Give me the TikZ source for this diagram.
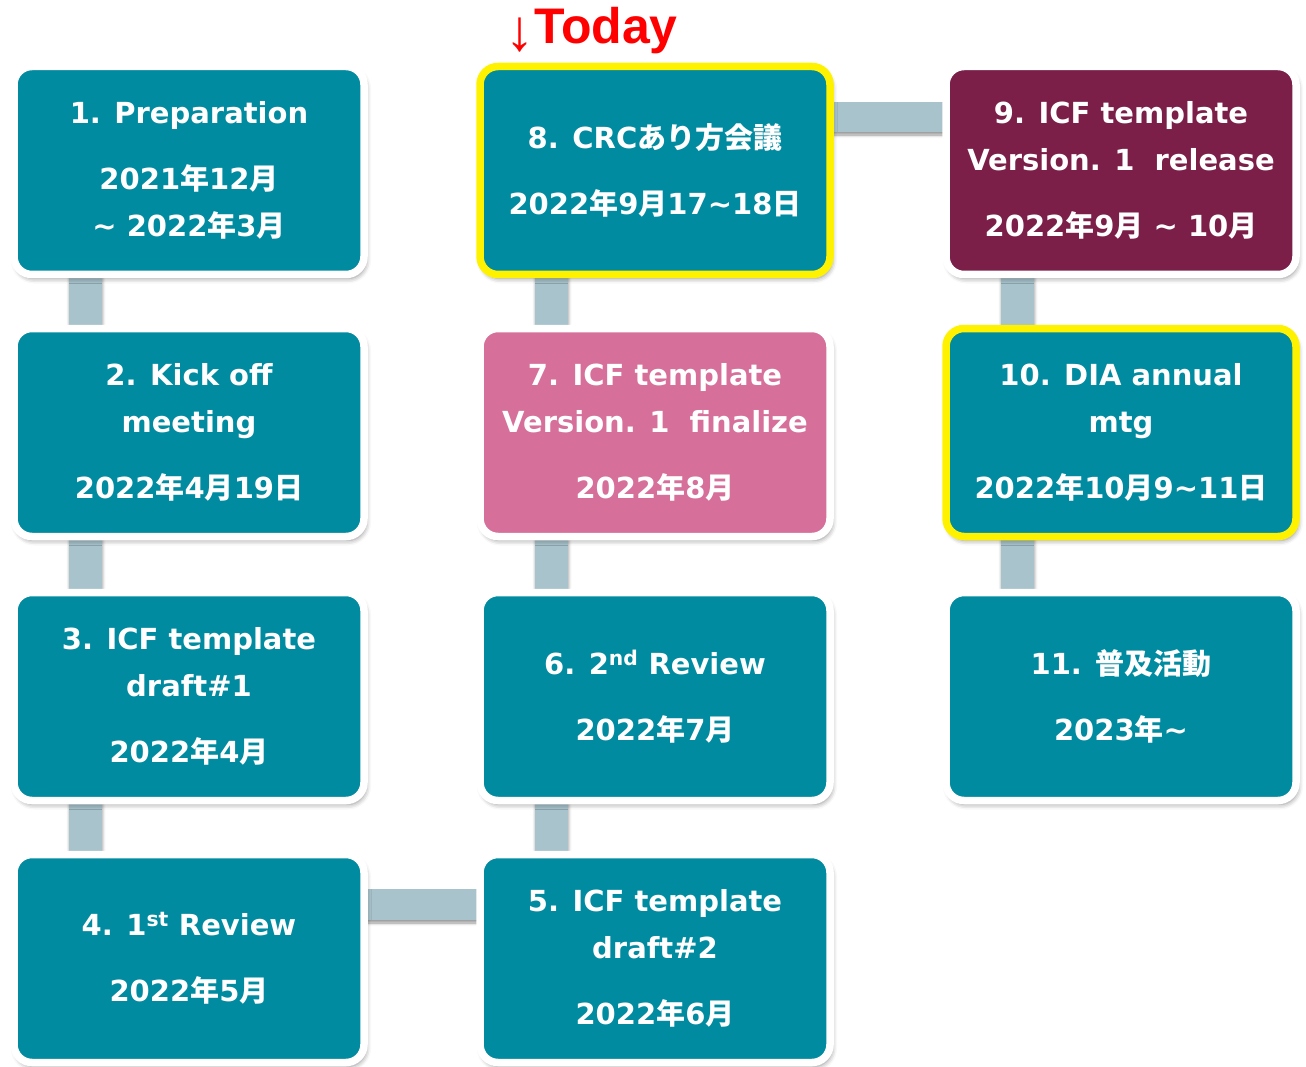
\documentclass[tikz,border=0pt]{standalone}
\usepackage{fontspec}
\setmainfont{DejaVu Sans}
\newfontfamily\jp{Noto Sans CJK JP Bold}
\newfontfamily\todayfont{Liberation Sans}
\usetikzlibrary{shadows.blur,backgrounds}
\definecolor{teal}{RGB}{0,139,160}
\definecolor{maroon}{RGB}{123,31,73}
\definecolor{pinkbox}{RGB}{214,112,155}
\definecolor{barc}{RGB}{168,195,204}
\definecolor{todayred}{RGB}{255,0,0}
\newcommand\J[1]{{\jp #1}}
\newcommand\tld{\textasciitilde}
\tikzset{
  stagebox/.style={rectangle, rounded corners=18pt, draw=white, line width=7.5pt,
    fill=teal, minimum width=350pt, minimum height=208pt, inner sep=0pt,
    align=center, text=white,
    font=\fontsize{29}{47}\selectfont\bfseries,
    blur shadow={shadow xshift=2pt, shadow yshift=-4pt, shadow blur radius=5pt, shadow opacity=45}},
  nowbox/.style={draw=yellow},
  barshape/.style={fill=barc, blur shadow={shadow xshift=1pt, shadow yshift=-3pt, shadow blur radius=3pt, shadow opacity=40}}
}
\begin{document}
\begin{tikzpicture}[x=1pt,y=-1pt]
\useasboundingbox (0,0) rectangle (1306,1067);
% column 1
\node[stagebox] (b1) at (189,170.5) {1. Preparation\\[19pt]2021\J{年}12\J{月}\\\tld{} 2022\J{年}3\J{月}};
\node[stagebox] (b2) at (189,432.5) {2. Kick off\\meeting\\[19pt]2022\J{年}4\J{月}19\J{日}};
\node[stagebox] (b3) at (189,696.5) {3. ICF template\\draft\#1\\[19pt]2022\J{年}4\J{月}};
\node[stagebox] (b4) at (189,958.5) {4. 1\textsuperscript{st} Review\\[19pt]2022\J{年}5\J{月}};
% column 2
\node[stagebox] (b5) at (655,958.5) {5. ICF template\\draft\#2\\[19pt]2022\J{年}6\J{月}};
\node[stagebox] (b6) at (655,696.5) {6. 2\textsuperscript{nd} Review\\[19pt]2022\J{年}7\J{月}};
\node[stagebox, fill=pinkbox] (b7) at (655,432.5) {7. ICF template\\Version. 1\ \ finalize\\[19pt]2022\J{年}8\J{月}};
\node[stagebox, nowbox] (b8) at (655,170.5) {8. CRC\J{あり方会議}\\[19pt]2022\J{年}9\J{月}17\tld18\J{日}};
% column 3
\node[stagebox, fill=maroon] (b9) at (1121,170.5) {9. ICF template\\Version. 1\ \ release\\[19pt]2022\J{年}9\J{月} \tld{} 10\J{月}};
\node[stagebox, nowbox] (b10) at (1121,432.5) {10. DIA annual\\mtg\\[19pt]2022\J{年}10\J{月}9\tld11\J{日}};
\node[stagebox] (b11) at (1121,696.5) {11. \J{普及活動}\\[19pt]2023\J{年}\tld};
% today marker
\node[anchor=base west, inner sep=0pt, text=todayred] (today) at (505,44)
  {\raisebox{-7pt}{\todayfont\fontsize{58}{58}\selectfont ↓}{\todayfont\bfseries\fontsize{50}{50}\selectfont Today}};
% connectors
\begin{pgfonlayer}{background}
\path[barshape] ([xshift=-120.5pt,yshift=10pt]b1.south) rectangle ([xshift=-87.5pt,yshift=-10pt]b2.north);
\path[barshape] ([xshift=-120.5pt,yshift=10pt]b2.south) rectangle ([xshift=-87.5pt,yshift=-10pt]b3.north);
\path[barshape] ([xshift=-120.5pt,yshift=10pt]b3.south) rectangle ([xshift=-87.5pt,yshift=-10pt]b4.north);
\path[barshape] ([xshift=-10pt,yshift=69.5pt]b4.east) rectangle ([xshift=10pt,yshift=38.5pt]b5.west);
\path[barshape] ([xshift=-120.5pt,yshift=-10pt]b5.north) rectangle ([xshift=-87.5pt,yshift=10pt]b6.south);
\path[barshape] ([xshift=-120.5pt,yshift=-10pt]b6.north) rectangle ([xshift=-87.5pt,yshift=10pt]b7.south);
\path[barshape] ([xshift=-120.5pt,yshift=-10pt]b7.north) rectangle ([xshift=-87.5pt,yshift=10pt]b8.south);
\path[barshape] ([xshift=-10pt,yshift=68.5pt]b8.east) rectangle ([xshift=10pt,yshift=38.5pt]b9.west);
\path[barshape] ([xshift=-120.5pt,yshift=10pt]b9.south) rectangle ([xshift=-87.5pt,yshift=-10pt]b10.north);
\path[barshape] ([xshift=-120.5pt,yshift=10pt]b10.south) rectangle ([xshift=-87.5pt,yshift=-10pt]b11.north);
\end{pgfonlayer}
\end{tikzpicture}
\end{document}
